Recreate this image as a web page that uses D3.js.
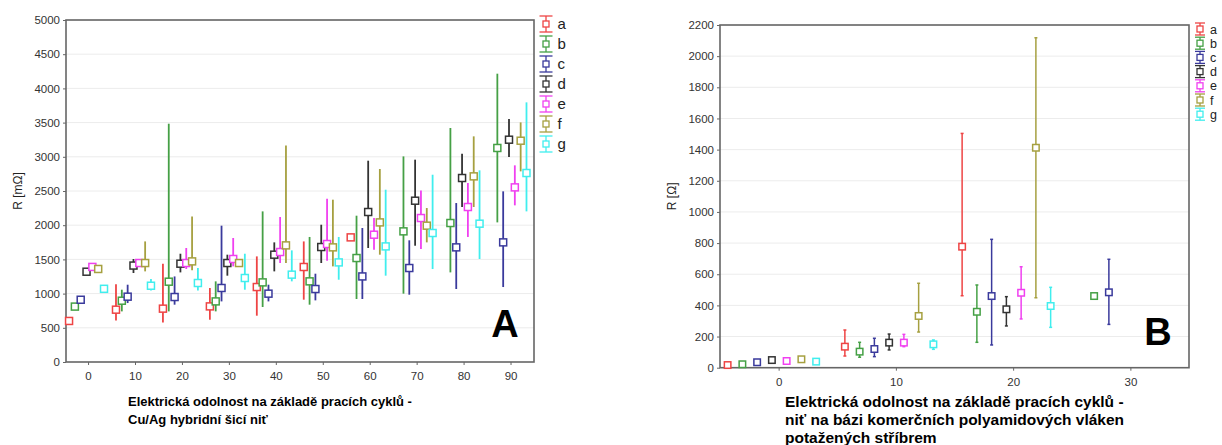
<!DOCTYPE html>
<html>
<head>
<meta charset="utf-8">
<script src="https://cdn.jsdelivr.net/npm/d3@7"></script>
<style>
  body { margin: 0; background: #fff; }
  svg text { font-family: "Liberation Sans", Arial, sans-serif; }
</style>
</head>
<body>
<svg id="chart"></svg>
<script>
// series shared by both panels
const seriesNames = ["a", "b", "c", "d", "e", "f", "g"];
const seriesColors = ["#ee4444", "#45a045", "#3a3a9c", "#333333", "#f040f0", "#a6a040", "#40eeee"];

// panel A - Cu/Ag hybrid thread, R in mOhm
const cyclesA = [0, 10, 20, 30, 40, 50, 60, 70, 80, 90];
const yTicksA = [0, 500, 1000, 1500, 2000, 2500, 3000, 3500, 4000, 4500, 5000];
const meanA = {
  a: [600, 765, 780, 813, 1096, 1389, 1822, null, null, null],
  b: [810, 896, 1174, 886, 1164, 1179, 1520, 1910, 2032, 3129],
  c: [910, 955, 950, 1082, 999, 1067, 1251, 1374, 1676, 1749],
  d: [1320, 1410, 1437, 1447, 1569, 1681, 2193, 2358, 2690, 3250],
  e: [1390, 1447, 1447, 1506, 1608, 1725, 1861, 2105, 2266, 2553],
  f: [1360, 1447, 1471, 1447, 1705, 1676, 2041, 1993, 2714, 3235],
  g: [1070, 1115, 1155, 1228, 1277, 1456, 1690, 1886, 2022, 2763]
};
const lowA = {
  a: [600, 608, 579, 618, 677, 911, 1822, null, null, null],
  b: [810, 740, 740, 740, 804, 838, 921, 999, 1310, 2041],
  c: [910, 862, 838, 886, 886, 901, 921, 984, 1067, 1096],
  d: [1300, 1301, 1310, 1262, 1325, 1447, 1667, 1700, 2266, 2997],
  e: [1390, 1400, 1360, 1398, 1447, 1481, 1642, 1652, 1828, 2290],
  f: [1360, 1325, 1340, 1400, 1447, 1398, 1569, 1749, 2266, 2787],
  g: [1070, 1047, 1047, 1057, 1179, 1203, 1262, 1359, 1506, 2202]
};
const highA = {
  a: [600, 1136, 1437, 1082, 1544, 1763, 1822, null, null, null],
  b: [810, 1057, 3484, 1179, 2202, 1828, 2139, 3006, 3421, 4215],
  c: [910, 1130, 1251, 1993, 1130, 1291, 1959, 1779, 2324, 2495],
  d: [1340, 1506, 1583, 1569, 1749, 2007, 2943, 2958, 3046, 3553],
  e: [1390, 1480, 1667, 1813, 2120, 2388, 2105, 2509, 2617, 2875],
  f: [1360, 1763, 2129, 1480, 3167, 2373, 2822, 2251, 3299, 3503],
  g: [1070, 1213, 1374, 1583, 1632, 1828, 2519, 2738, 2802, 3796]
};

// panel B - silver coated polyamide thread, R in Ohm
const cyclesB = [0, 10, 20, 30];
const yTicksB = [0, 200, 400, 600, 800, 1000, 1200, 1400, 1600, 1800, 2000, 2200];
const meanB = {
  a: [17, 135, 777, null],
  b: [22, 103, 359, 460],
  c: [35, 120, 460, 484],
  d: [49, 161, 375, null],
  e: [43, 161, 481, null],
  f: [54, 332, 1412, null],
  g: [39, 150, 396, null]
};
const lowB = {
  a: [17, 75, 462, null],
  b: [22, 67, 163, 460],
  c: [35, 71, 146, 278],
  d: [49, 114, 268, null],
  e: [43, 135, 313, null],
  f: [54, 229, 449, null],
  g: [39, 118, 259, null]
};
const highB = {
  a: [17, 242, 1504, null],
  b: [22, 163, 531, 460],
  c: [35, 189, 824, 696],
  d: [49, 216, 456, null],
  e: [43, 214, 648, null],
  f: [54, 542, 2118, null],
  g: [39, 178, 516, null]
};

const width = 1222,
  height = 445;

const svg = d3
  .select("#chart")
  .attr("width", width)
  .attr("height", height)
  .style("display", "block");

svg.append("rect").attr("width", width).attr("height", height).attr("fill", "#fff");

function drawPanel(p) {
  const g = svg.append("g");
  const xScale = d3.scaleLinear().domain(p.xDomain).range([p.left, p.right]);
  const yScale = d3.scaleLinear().domain(p.yDomain).range([p.bottom, p.top]);
  const offset = d3.scalePoint().domain(seriesNames).range(p.offsetRange);

  // grid
  g.selectAll(".grid")
    .data(p.yTicks.slice(1))
    .enter()
    .append("line")
    .attr("x1", p.left)
    .attr("x2", p.right)
    .attr("y1", d => yScale(d))
    .attr("y2", d => yScale(d))
    .attr("stroke", "#ececec")
    .attr("stroke-width", 1);

  const yAxis = d3.axisLeft(yScale).tickValues(p.yTicks).tickSize(3).tickPadding(3).tickFormat(d3.format("d"));
  const xAxis = d3.axisBottom(xScale).tickValues(p.xTicks).tickSize(3).tickPadding(7).tickFormat(d3.format("d"));

  const ya = g.append("g").attr("transform", "translate(" + p.left + ",0)").call(yAxis);
  const xa = g.append("g").attr("transform", "translate(0," + p.bottom + ")").call(xAxis);
  [ya, xa].forEach(a => {
    a.select(".domain").remove();
    a.selectAll("line").attr("stroke", "#666");
    a.selectAll("text").attr("fill", "#333").style("font-size", "11.5px");
  });

  // frame
  g.append("rect")
    .attr("x", p.left)
    .attr("y", p.top)
    .attr("width", p.right - p.left)
    .attr("height", p.bottom - p.top)
    .attr("fill", "none")
    .attr("stroke", "#666")
    .attr("stroke-width", 1.6);

  g.append("text")
    .attr("transform", "translate(" + p.yTitleX + "," + (p.top + p.bottom) / 2 + ") rotate(-90)")
    .attr("text-anchor", "middle")
    .attr("fill", "#222")
    .style("font-size", "12px")
    .text(p.yTitle);

  // points with error bars
  const points = [];
  seriesNames.forEach((s, si) => {
    p.cycles.forEach((c, ci) => {
      if (p.mean[s][ci] == null) return;
      points.push({
        s: s,
        color: seriesColors[si],
        x: c + offset(s),
        m: p.mean[s][ci],
        lo: p.low[s][ci],
        hi: p.high[s][ci]
      });
    });
  });

  const pt = g.selectAll(".pt").data(points).enter().append("g");
  pt.append("line")
    .attr("x1", d => xScale(d.x))
    .attr("x2", d => xScale(d.x))
    .attr("y1", d => yScale(d.lo))
    .attr("y2", d => yScale(d.hi))
    .attr("stroke", d => d.color)
    .attr("stroke-width", p.barWidth);
  if (p.cap > 0) {
    pt.selectAll(".cap")
      .data(d => (d.hi > d.lo ? [[d, d.lo], [d, d.hi]] : []))
      .enter()
      .append("line")
      .attr("x1", d => xScale(d[0].x) - p.cap)
      .attr("x2", d => xScale(d[0].x) + p.cap)
      .attr("y1", d => yScale(d[1]))
      .attr("y2", d => yScale(d[1]))
      .attr("stroke", d => d[0].color)
      .attr("stroke-width", 1.5);
  }
  pt.append("rect")
    .attr("x", d => xScale(d.x) - p.sq / 2)
    .attr("y", d => yScale(d.m) - p.sq / 2)
    .attr("width", p.sq)
    .attr("height", p.sq)
    .attr("fill", "#fff")
    .attr("stroke", d => d.color)
    .attr("stroke-width", 1.5);

  // legend
  const lg = g.append("g");
  seriesNames.forEach((s, i) => {
    const cy = p.legendY + i * p.legendStep,
      cx = p.legendX,
      h = p.legendH / 2,
      w = p.legendW / 2,
      col = seriesColors[i];
    lg.append("line").attr("x1", cx).attr("x2", cx).attr("y1", cy - h).attr("y2", cy + h).attr("stroke", col).attr("stroke-width", 1.3);
    lg.append("line").attr("x1", cx - w).attr("x2", cx + w).attr("y1", cy - h).attr("y2", cy - h).attr("stroke", col).attr("stroke-width", 1.3);
    lg.append("line").attr("x1", cx - w).attr("x2", cx + w).attr("y1", cy + h).attr("y2", cy + h).attr("stroke", col).attr("stroke-width", 1.3);
    lg.append("rect").attr("x", cx - 3).attr("y", cy - 3).attr("width", 6).attr("height", 6).attr("fill", "#fff").attr("stroke", col).attr("stroke-width", 1.3);
    lg.append("text")
      .attr("x", cx + w + 5)
      .attr("y", cy + p.legendFont * 0.36)
      .attr("fill", "#222")
      .style("font-size", p.legendFont + "px")
      .text(s);
  });

  g.append("text")
    .attr("x", p.letterX)
    .attr("y", p.letterY)
    .attr("text-anchor", "middle")
    .attr("fill", "#000")
    .style("font-size", "38px")
    .style("font-weight", "bold")
    .text(p.letter);

  p.caption.forEach((t, i) => {
    g.append("text")
      .attr("x", p.captionX)
      .attr("y", p.captionY + i * p.captionStep)
      .attr("fill", "#000")
      .style("font-size", p.captionFont + "px")
      .style("font-weight", "bold")
      .text(t);
  });
}

drawPanel({
  left: 66, right: 534, top: 20, bottom: 362,
  xDomain: [-4.7, 95], yDomain: [0, 5000],
  xTicks: cyclesA, yTicks: yTicksA, cycles: cyclesA,
  mean: meanA, low: lowA, high: highA,
  offsetRange: [-4.05, 3.4],
  barWidth: 1.8, cap: 0, sq: 7,
  yTitle: "R [mΩ]", yTitleX: 22,
  legendX: 546, legendY: 24, legendStep: 20, legendH: 16, legendW: 13, legendFont: 15,
  letter: "A", letterX: 505, letterY: 337,
  caption: ["Elektrická odolnost na základě pracích cyklů -", "Cu/Ag hybridní šicí niť"],
  captionX: 128, captionY: 406, captionStep: 17.5, captionFont: 13
});

drawPanel({
  left: 720, right: 1189, top: 25, bottom: 367.7,
  xDomain: [-5, 35], yDomain: [0, 2200],
  xTicks: [0, 10, 20, 30], yTicks: yTicksB, cycles: cyclesB,
  mean: meanB, low: lowB, high: highB,
  offsetRange: [-4.35, 3.2],
  barWidth: 1.5, cap: 1.5, sq: 6.5,
  yTitle: "R [Ω]", yTitleX: 676,
  legendX: 1200, legendY: 29, legendStep: 14.2, legendH: 12, legendW: 10, legendFont: 12.5,
  letter: "B", letterX: 1158, letterY: 345,
  caption: ["Elektrická odolnost na základě pracích cyklů -", "niť na bázi komerčních polyamidových vláken", "potažených stříbrem"],
  captionX: 785, captionY: 406.5, captionStep: 18, captionFont: 15.5
});
</script>
</body>
</html>
